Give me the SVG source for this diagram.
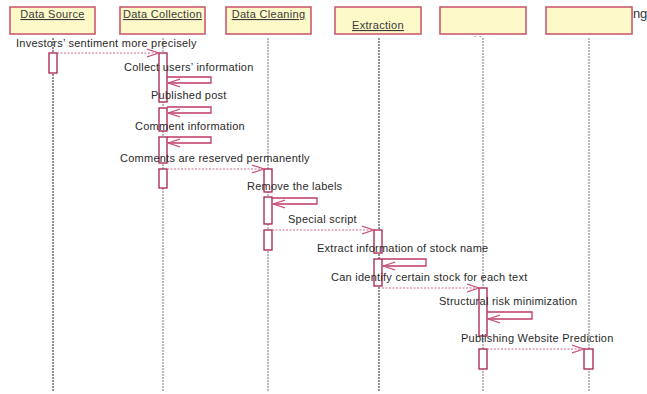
<svg xmlns="http://www.w3.org/2000/svg" width="647" height="394" viewBox="0 0 647 394">
<defs>
<style>
.box{fill:#fdf9c9;stroke:#c8506a;stroke-width:1.5}
.lbl{font-family:"Liberation Sans",Arial,sans-serif;font-size:11px;letter-spacing:0.3px;fill:#3a3a3a;text-decoration:underline}
.life{stroke:#777;stroke-width:1;stroke-dasharray:2,1}
.life0{stroke:#222;stroke-width:1;stroke-dasharray:2,1}
.act{fill:#fff;stroke:#a8204a;stroke-width:1.3}
.msg{fill:none;stroke:#d06a8a;stroke-width:1.2;stroke-dasharray:2,1.5}
.self{fill:none;stroke:#c03a66;stroke-width:1.3}
.t{font-family:"Liberation Sans",Arial,sans-serif;font-size:11px;letter-spacing:0.25px;fill:#2a2a2a}
</style>
<marker id="ah" markerWidth="13" markerHeight="10" refX="12" refY="5" orient="auto" markerUnits="userSpaceOnUse">
<path d="M0,1 L12,5 L0,9" fill="none" stroke="#c8507a" stroke-width="1.2"/>
</marker>
</defs>
<rect width="647" height="394" fill="#fff"/>
<text x="630" y="18" style="font-family:'Liberation Sans',Arial,sans-serif;font-size:13px;fill:#333">ing</text>
<g id="n1">
<line class="life0" x1="53" y1="38" x2="53" y2="391"/>
<rect class="box" x="10" y="7" width="85" height="27"/>
<text class="lbl" x="52.5" y="18" text-anchor="middle">Data Source</text>
<rect class="act" x="49" y="53" width="8" height="20"/>
</g>
<g id="n2">
<line class="life" x1="163" y1="38" x2="163" y2="391"/>
<rect class="box" x="120" y="7" width="85" height="27"/>
<text class="lbl" x="162.5" y="18" text-anchor="middle">Data Collection</text>
<rect class="act" x="159" y="53" width="8" height="49"/>
<rect class="act" x="159" y="108" width="8" height="23"/>
<rect class="act" x="159" y="137" width="8" height="26"/>
<rect class="act" x="159" y="169" width="8" height="19"/>
</g>
<g id="n3">
<line class="life" x1="268" y1="38" x2="268" y2="391"/>
<rect class="box" x="226" y="7" width="85" height="27"/>
<text class="lbl" x="268.5" y="18" text-anchor="middle">Data Cleaning</text>
<rect class="act" x="264" y="169" width="8" height="23"/>
<rect class="act" x="264" y="197" width="8" height="27"/>
<rect class="act" x="264" y="230" width="8" height="20"/>
</g>
<g id="n4">
<line class="life0" x1="379" y1="38" x2="379" y2="391"/>
<rect class="box" x="335" y="7" width="86" height="27"/>
<text class="lbl" x="378" y="29" text-anchor="middle">Extraction</text>
<rect class="act" x="374" y="230" width="8" height="23"/>
<rect class="act" x="374" y="259" width="8" height="27"/>
</g>
<g id="n5">
<line class="life" x1="483" y1="38" x2="483" y2="391"/>
<rect class="box" x="440" y="7" width="86" height="27"/>
<text class="t" x="474" y="37" style="font-size:8px">. .</text>
<rect class="act" x="479" y="288" width="8" height="48"/>
<rect class="act" x="479" y="349" width="8" height="20"/>
</g>
<g id="n6">
<line class="life" x1="589" y1="38" x2="589" y2="391"/>
<rect class="box" x="546" y="7" width="86" height="27"/>
<rect class="act" x="584" y="349" width="9" height="20"/>
</g>
<g id="connectors">
<line class="msg" x1="57" y1="53" x2="159" y2="53" marker-end="url(#ah)"/>
<text class="t" x="16" y="47">Investors’ sentiment more precisely</text>
<polyline class="self" points="167,77 211,77 211,83 168,83" marker-end="url(#ah)"/>
<text class="t" x="124" y="71">Collect users’ information</text>
<polyline class="self" points="167,107 211,107 211,113 168,113" marker-end="url(#ah)"/>
<text class="t" x="151" y="99">Published post</text>
<polyline class="self" points="167,137 211,137 211,143 168,143" marker-end="url(#ah)"/>
<text class="t" x="135" y="130">Comment information</text>
<line class="msg" x1="167" y1="169" x2="264" y2="169" marker-end="url(#ah)"/>
<text class="t" x="120" y="162">Comments are reserved permanently</text>
<polyline class="self" points="272,198 317,198 317,204 273,204" marker-end="url(#ah)"/>
<text class="t" x="247" y="190">Remove the labels</text>
<line class="msg" x1="272" y1="230" x2="374" y2="230" marker-end="url(#ah)"/>
<text class="t" x="288" y="223">Special script</text>
<polyline class="self" points="382,259 426,259 426,266 383,266" marker-end="url(#ah)"/>
<text class="t" x="317" y="252">Extract information of stock name</text>
<line class="msg" x1="382" y1="288" x2="479" y2="288" marker-end="url(#ah)"/>
<text class="t" x="331" y="281">Can identify certain stock for each text</text>
<polyline class="self" points="487,312 532,312 532,319 488,319" marker-end="url(#ah)"/>
<text class="t" x="439" y="305">Structural risk minimization</text>
<line class="msg" x1="487" y1="349" x2="584" y2="349" marker-end="url(#ah)"/>
<text class="t" x="461" y="342">Publishing Website Prediction</text>
</g>
</svg>
